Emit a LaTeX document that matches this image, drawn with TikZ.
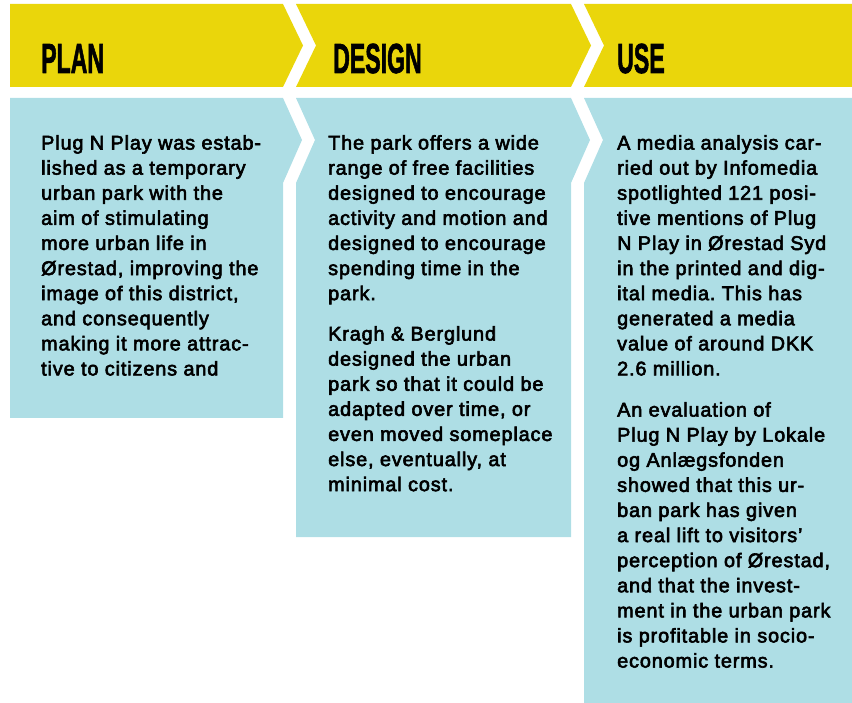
\documentclass[tikz,border=0pt]{standalone}
\usepackage{fontspec}
\usepackage{graphicx}
\setmainfont{Liberation Sans}
\newfontfamily\bodyfont{Liberation Sans}[FakeBold=3,LetterSpace=4.5]
\newfontfamily\headfont{Liberation Sans Bold}[FakeBold=2]
\definecolor{headyellow}{HTML}{EAD60B}
\definecolor{boxblue}{HTML}{AEDEE5}
\frenchspacing
\begin{document}
\begin{tikzpicture}[x=1pt,y=-1pt,
  headshape/.style={fill=headyellow,draw=none},
  boxshape/.style={fill=boxblue,draw=none},
  headtext/.style={anchor=base west,inner sep=0pt,font=\headfont\fontsize{42}{42}\selectfont},
  bodytext/.style={anchor=north west,inner sep=0pt,align=left,font=\bodyfont\fontsize{19.8}{25.1}\selectfont\frenchspacing}]
\useasboundingbox (0,0) rectangle (852,703);
% header chevrons
\fill[headshape] (10,4) -- (283,4) -- (303,45.5) -- (283,87) -- (10,87) -- cycle;
\fill[headshape] (296,4) -- (571,4) -- (591,45.5) -- (571,87) -- (296,87) -- (316,45.5) -- cycle;
\fill[headshape] (584,4) -- (852,4) -- (852,87) -- (584,87) -- (604,45.5) -- cycle;
% body boxes
\fill[boxshape] (10,98) -- (283,98) -- (302,140) -- (283,183) -- (283,418) -- (10,418) -- cycle;
\fill[boxshape] (296,98) -- (571,98) -- (590,140) -- (571,183) -- (571,537) -- (296,537) -- (296,183) -- (315,140) -- cycle;
\fill[boxshape] (584,98) -- (852,98) -- (852,703) -- (584,703) -- (584,183) -- (603,140) -- cycle;
% header texts
\node[headtext] (plan) at (41,73) {\scalebox{0.55}[1]{PLAN}};
\node[headtext] (design) at (333,73) {\scalebox{0.55}[1]{DESIGN}};
\node[headtext] (use) at (617,73) {\scalebox{0.55}[1]{USE}};
% body texts
\node[bodytext] (plan1) at (41,135) {Plug N Play was estab-\\lished as a temporary\\urban park with the\\aim of stimulating\\more urban life in\\Ørestad, improving the\\image of this district,\\and consequently\\making it more attrac-\\tive to citizens and};
\node[bodytext] (design1) at (328,135) {The park offers a wide\\range of free facilities\\designed to encourage\\activity and motion and\\designed to encourage\\spending time in the\\park.};
\node[bodytext] (design2) at (328,326) {Kragh \& Berglund\\designed the urban\\park so that it could be\\adapted over time, or\\even moved someplace\\else, eventually, at\\minimal cost.};
\node[bodytext] (use1) at (617,135) {A media analysis car-\\ried out by Infomedia\\spotlighted 121 posi-\\tive mentions of Plug\\N Play in Ørestad Syd\\in the printed and dig-\\ital media. This has\\generated a media\\value of around DKK\\2.6 million.};
\node[bodytext] (use2) at (617,402) {An evaluation of\\Plug N Play by Lokale\\og Anlægsfonden\\showed that this ur-\\ban park has given\\a real lift to visitors’\\perception of Ørestad,\\and that the invest-\\ment in the urban park\\is profitable in socio-\\economic terms.};
\end{tikzpicture}
\end{document}
